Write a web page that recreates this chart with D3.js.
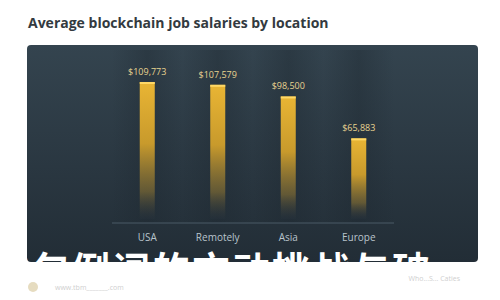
<!DOCTYPE html>
<html>
<head>
<meta charset="utf-8">
<script src="https://cdn.jsdelivr.net/npm/d3@7"></script>
<style>
  body { margin: 0; background: #fff; }
  svg { display: block; font-family: "Open Sans", "Noto Sans", sans-serif; }
</style>
</head>
<body>
<svg id="chart" width="500" height="300"></svg>
<script>
// data
const locations = ["USA", "Remotely", "Asia", "Europe"];
const salaries = [109773, 107579, 98500, 65883];
const salaryLabels = ["$109,773", "$107,579", "$98,500", "$65,883"];

const svg = d3.select("#chart");
const defs = svg.append("defs");

let panelGrad = defs.append("linearGradient")
    .attr("id", "panel-grad").attr("x1", 0).attr("y1", 0).attr("x2", 0).attr("y2", 1);
panelGrad.append("stop").attr("offset", "0%").attr("stop-color", "#34444f");
panelGrad.append("stop").attr("offset", "100%").attr("stop-color", "#222d36");

let barGrad = defs.append("linearGradient")
    .attr("id", "bar-grad").attr("x1", 0).attr("y1", 0).attr("x2", 0).attr("y2", 1);
barGrad.append("stop").attr("offset", "0%").attr("stop-color", "#e9b534");
barGrad.append("stop").attr("offset", "45%").attr("stop-color", "#c89a2c");
barGrad.append("stop").attr("offset", "80%").attr("stop-color", "#7d6a34").attr("stop-opacity", 0.7);
barGrad.append("stop").attr("offset", "100%").attr("stop-color", "#2a3540").attr("stop-opacity", 0.2);

let bandGrad = defs.append("linearGradient")
    .attr("id", "band-grad").attr("x1", 0).attr("y1", 0).attr("x2", 1).attr("y2", 0);
bandGrad.append("stop").attr("offset", "0%").attr("stop-color", "#1c262e").attr("stop-opacity", 0);
bandGrad.append("stop").attr("offset", "50%").attr("stop-color", "#1c262e").attr("stop-opacity", 0.35);
bandGrad.append("stop").attr("offset", "100%").attr("stop-color", "#1c262e").attr("stop-opacity", 0);

// title
svg.append("text")
    .attr("x", 28).attr("y", 28)
    .attr("font-size", 14).attr("font-weight", 700)
    .attr("fill", "#333a40")
    .text("Average blockchain job salaries by location");

// dark panel
svg.append("rect")
    .attr("x", 27).attr("y", 45).attr("width", 451).attr("height", 217)
    .attr("rx", 4)
    .attr("fill", "url(#panel-grad)");

const x = d3.scaleBand().domain(locations).range([112, 394]);
const y = d3.scaleLinear().domain([0, 110000]).range([223, 81.7]);

let g = svg.append("g");

// soft vertical bands behind each bar
g.selectAll("rect.band")
    .data(locations)
    .enter().append("rect")
    .attr("class", "band")
    .attr("x", d => x(d))
    .attr("y", 50)
    .attr("width", x.bandwidth())
    .attr("height", y(0) - 50)
    .attr("fill", "url(#band-grad)");

// axis line
g.append("line")
    .attr("x1", 112).attr("x2", 394)
    .attr("y1", y(0)).attr("y2", y(0))
    .attr("stroke", "#4a5a66").attr("stroke-width", 1);

const barW = 15;
let bars = g.selectAll("g.bar")
    .data(locations.map((d, i) => ({loc: d, value: salaries[i], label: salaryLabels[i]})))
    .enter().append("g")
    .attr("class", "bar");

bars.append("rect")
    .attr("x", d => x(d.loc) + x.bandwidth() / 2 - barW / 2)
    .attr("y", d => y(d.value))
    .attr("width", barW)
    .attr("height", d => y(0) - y(d.value) - 4)
    .attr("fill", "url(#bar-grad)");

// highlight on bar top
bars.append("rect")
    .attr("x", d => x(d.loc) + x.bandwidth() / 2 - barW / 2)
    .attr("y", d => y(d.value))
    .attr("width", barW)
    .attr("height", 2)
    .attr("fill", "#ffd866");

bars.append("text")
    .attr("x", d => x(d.loc) + x.bandwidth() / 2)
    .attr("y", d => y(d.value) - 7)
    .attr("text-anchor", "middle")
    .attr("font-size", 9)
    .attr("fill", "#e8d390")
    .text(d => d.label);

bars.append("text")
    .attr("x", d => x(d.loc) + x.bandwidth() / 2)
    .attr("y", 241)
    .attr("text-anchor", "middle")
    .attr("font-size", 10)
    .attr("fill", "#b9c4cc")
    .text(d => d.loc);

// watermark overlay text, only its upper part shows on the dark panel
svg.append("text")
    .attr("x", -8).attr("y", 284)
    .attr("font-size", 38).attr("font-weight", 700)
    .attr("font-family", "Noto Sans CJK SC")
    .attr("fill", "#ffffff")
    .attr("letter-spacing", 2)
    .text("钱包例词的方动挑战与破");

// faint footer
svg.append("text")
    .attr("x", 55).attr("y", 290)
    .attr("font-size", 7).attr("fill", "#cfcfcf")
    .text("www.tbm_______.com");
svg.append("circle")
    .attr("cx", 33).attr("cy", 287).attr("r", 5)
    .attr("fill", "#e6dcc0");
svg.append("text")
    .attr("x", 460).attr("y", 281)
    .attr("text-anchor", "end")
    .attr("font-size", 7).attr("fill", "#cfcfcf")
    .text("Who...S... Caties");
</script>
</body>
</html>
